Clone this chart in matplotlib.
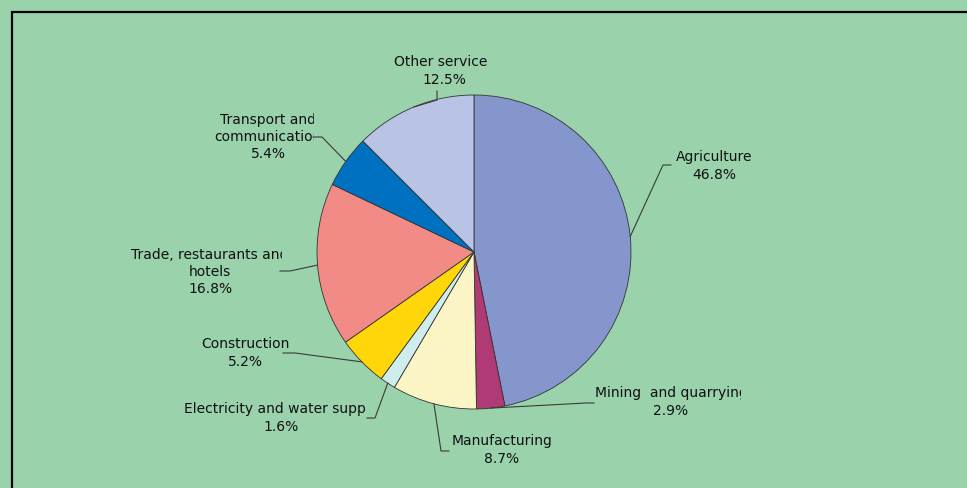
import numpy as np
import matplotlib
matplotlib.use("Agg")
import matplotlib.pyplot as plt
from matplotlib.patches import Rectangle
from matplotlib.transforms import Bbox, TransformedBbox

# GDP share by sector
sectors = ["Agriculture", "Mining  and quarrying", "Manufacturing",
           "Electricity and water supply", "Construction",
           "Trade, restaurants and\nhotels", "Transport and\ncommunication",
           "Other services"]
shares = [46.8, 2.9, 8.7, 1.6, 5.2, 16.8, 5.4, 12.5]
colors = ["#8596CC", "#B03A73", "#FBF5C6", "#CFEDED", "#FFD60A",
          "#F28B86", "#0070C0", "#B9C3E5"]

W, H = 967, 488
bg = "#9AD2AC"

# label layout in pixel coords (top-left origin):
# text centre, clip right edge, and the two leader points next to the text
label_pos = [(714, 166), (671, 402), (502, 450), (281, 418),
             (245, 353), (210, 272), (268, 137), (444, 71)]
clip_right = [752, 741, 600, 367, 320, 282, 314, 488]
leader_pts = [[(663, 165), (671, 165)],
              [(586, 403), (594, 403)],
              [(441, 451), (449, 451)],
              [(375, 418), (367, 418)],
              [(295, 353), (283, 353)],
              [(290, 271), (280, 271)],
              [(322, 137), (313, 137)],
              [(437, 100), (437, 91)]]


def px(x, y):
    return x, H - y


fig = plt.figure(figsize=(W / 100, H / 100), dpi=100)
fig.patch.set_facecolor(bg)
ax = fig.add_axes([0, 0, 1, 1])
ax.set_xlim(0, W)
ax.set_ylim(0, H)
ax.set_aspect("equal")
ax.axis("off")

# outer frame
ax.add_patch(Rectangle(px(12, 12 + 600), 1200, 600, fill=False,
                       edgecolor="black", linewidth=1.6, zorder=1))

cx, cy = px(474, 252)
r = 157
wedges, _ = ax.pie(shares, colors=colors, startangle=90, counterclock=False,
                   center=(cx, cy), radius=r, frame=True,
                   wedgeprops=dict(edgecolor="#333333", linewidth=0.6))
ax.set_xlim(0, W)
ax.set_ylim(0, H)
ax.axis("off")

total = sum(shares)
cum = 0.0
for i, (name, val) in enumerate(zip(sectors, shares)):
    mid = np.deg2rad(90 - 360 * (cum + val / 2) / total)
    cum += val
    ex, ey = cx + r * np.cos(mid), cy + r * np.sin(mid)
    xs = [ex] + [p[0] for p in leader_pts[i]]
    ys = [ey] + [H - p[1] for p in leader_pts[i]]
    ax.plot(xs, ys, color="#3a3a3a", linewidth=0.8, zorder=3)

    tx, ty = px(*label_pos[i])
    t = ax.text(tx, ty, "%s\n%.1f%%" % (name, val), ha="center", va="center",
                multialignment="center", fontsize=10, linespacing=1.3,
                color="#111111", zorder=4)
    clip = TransformedBbox(Bbox([[0, 0], [clip_right[i], H]]), ax.transData)
    t.set_clip_box(clip)
    t.set_clip_on(True)

fig.savefig("out.png", dpi=100, facecolor=bg)
